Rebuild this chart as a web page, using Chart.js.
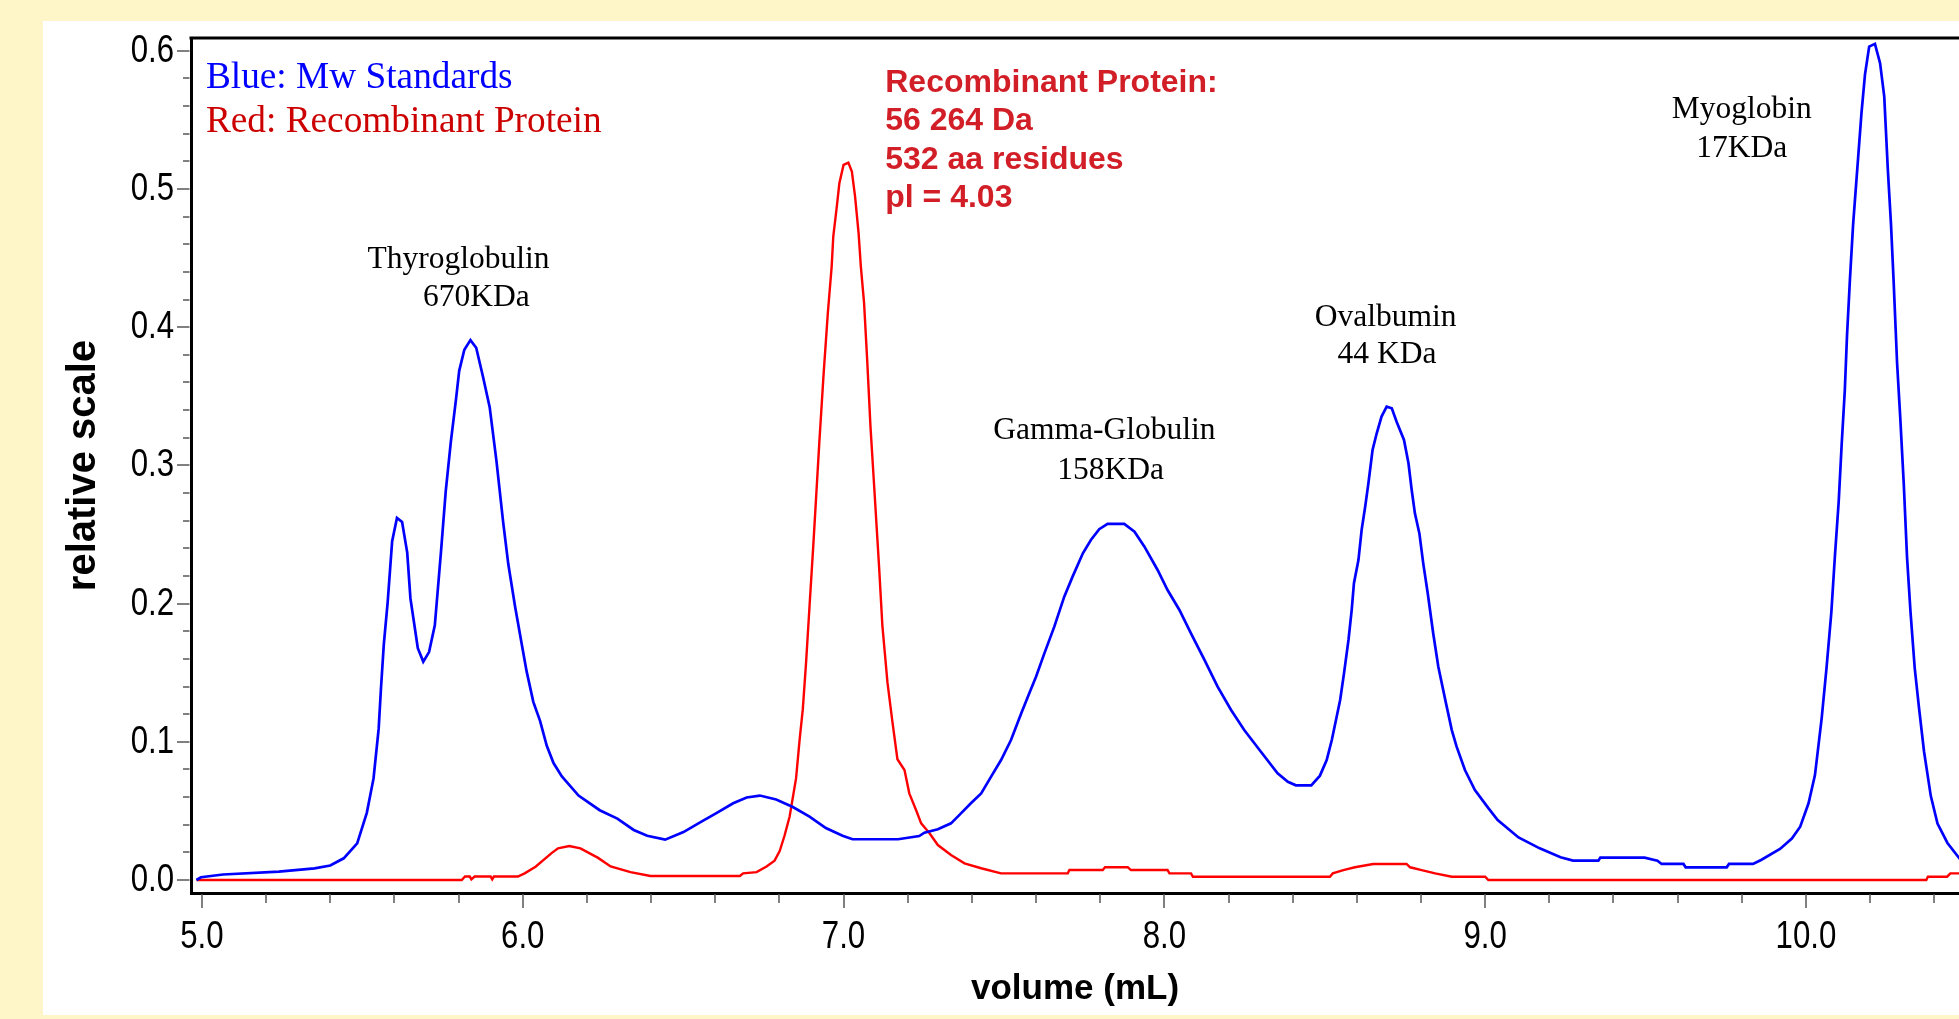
<!DOCTYPE html>
<html>
<head>
<meta charset="utf-8">
<script src="https://cdn.jsdelivr.net/npm/chart.js@4.4.1/dist/chart.umd.min.js"></script>
<style>
  html, body { margin: 0; padding: 0; background: #fef5c8; overflow: hidden; }
  #panel { position: absolute; left: 43px; top: 21px; width: 1916px; height: 994px; background: #ffffff; }
</style>
</head>
<body>
<div id="panel"><canvas id="myChart"></canvas></div>
<script>
// Mw standards trace (blue)
const blueVolume = [4.983, 4.997, 5.066, 5.24, 5.351, 5.40, 5.442, 5.484, 5.514, 5.535, 5.551, 5.558, 5.567, 5.579, 5.593, 5.608, 5.624, 5.640, 5.650, 5.666, 5.673, 5.690, 5.708, 5.726, 5.739, 5.745, 5.760, 5.776, 5.792, 5.802, 5.818, 5.837, 5.855, 5.876, 5.897, 5.918, 5.939, 5.955, 5.976, 5.997, 6.012, 6.033, 6.054, 6.075, 6.096, 6.122, 6.174, 6.240, 6.295, 6.346, 6.388, 6.444, 6.501, 6.553, 6.605, 6.656, 6.698, 6.739, 6.790, 6.842, 6.894, 6.945, 6.997, 7.028, 7.170, 7.236, 7.252, 7.294, 7.335, 7.366, 7.397, 7.429, 7.460, 7.491, 7.522, 7.554, 7.579, 7.600, 7.626, 7.657, 7.688, 7.714, 7.746, 7.771, 7.797, 7.823, 7.875, 7.907, 7.938, 7.979, 8.010, 8.047, 8.083, 8.125, 8.166, 8.208, 8.249, 8.301, 8.353, 8.385, 8.410, 8.458, 8.485, 8.506, 8.522, 8.535, 8.548, 8.560, 8.574, 8.584, 8.591, 8.605, 8.615, 8.626, 8.636, 8.649, 8.662, 8.677, 8.693, 8.709, 8.724, 8.747, 8.761, 8.771, 8.781, 8.795, 8.807, 8.821, 8.838, 8.854, 8.878, 8.896, 8.911, 8.937, 8.968, 9.010, 9.039, 9.104, 9.170, 9.235, 9.274, 9.353, 9.359, 9.497, 9.537, 9.55, 9.618, 9.625, 9.753, 9.76, 9.835, 9.86, 9.919, 9.956, 9.982, 10.008, 10.028, 10.049, 10.064, 10.079, 10.09, 10.102, 10.111, 10.121, 10.128, 10.137, 10.147, 10.160, 10.173, 10.184, 10.197, 10.215, 10.231, 10.244, 10.255, 10.265, 10.273, 10.284, 10.294, 10.305, 10.315, 10.326, 10.339, 10.352, 10.368, 10.389, 10.41, 10.441, 10.481, 10.52];
const blueSignal = [0.000, 0.002, 0.004, 0.006, 0.0084, 0.0105, 0.0157, 0.0265, 0.0486, 0.0735, 0.1095, 0.138, 0.1705, 0.2009, 0.2452, 0.2619, 0.259, 0.2369, 0.2037, 0.1787, 0.1677, 0.158, 0.1649, 0.1843, 0.2203, 0.2369, 0.2812, 0.3172, 0.3477, 0.3684, 0.3837, 0.3906, 0.3851, 0.3643, 0.3421, 0.3034, 0.259, 0.2286, 0.1981, 0.1705, 0.1511, 0.1289, 0.1151, 0.0971, 0.0846, 0.0749, 0.0611, 0.0505, 0.0444, 0.0362, 0.032, 0.0292, 0.0347, 0.0417, 0.0486, 0.0555, 0.0597, 0.0611, 0.0583, 0.0528, 0.0459, 0.0376, 0.032, 0.0295, 0.0295, 0.0318, 0.0342, 0.0367, 0.041, 0.0482, 0.0555, 0.0627, 0.0748, 0.0868, 0.1013, 0.1206, 0.1351, 0.1471, 0.164, 0.1833, 0.205, 0.2195, 0.2364, 0.246, 0.2538, 0.2576, 0.2576, 0.252, 0.2412, 0.2243, 0.2098, 0.1954, 0.1785, 0.1592, 0.1399, 0.123, 0.1085, 0.0928, 0.0772, 0.0711, 0.0685, 0.0685, 0.0755, 0.0868, 0.1013, 0.1158, 0.1302, 0.1495, 0.1737, 0.1954, 0.2147, 0.2315, 0.2533, 0.2701, 0.287, 0.3111, 0.3232, 0.3353, 0.3425, 0.3413, 0.3316, 0.3184, 0.3015, 0.2822, 0.2653, 0.2508, 0.2291, 0.2075, 0.1785, 0.1543, 0.1278, 0.1085, 0.0965, 0.0796, 0.0651, 0.052, 0.0434, 0.0308, 0.0229, 0.0164, 0.014, 0.014, 0.0162, 0.0162, 0.014, 0.0116, 0.0116, 0.0092, 0.0092, 0.0116, 0.0116, 0.0145, 0.0225, 0.030, 0.0386, 0.0555, 0.0759, 0.1171, 0.1533, 0.1934, 0.2336, 0.2737, 0.3139, 0.354, 0.3942, 0.4344, 0.4745, 0.5147, 0.5548, 0.5829, 0.603, 0.605, 0.591, 0.5668, 0.5147, 0.4745, 0.4344, 0.3741, 0.334, 0.2858, 0.2336, 0.1934, 0.1533, 0.1252, 0.093, 0.0609, 0.0408, 0.0268, 0.0148, 0.010];

// recombinant protein trace (red)
const redVolume = [4.983, 5.81, 5.82, 5.835, 5.84, 5.85, 5.90, 5.905, 5.91, 5.985, 6.006, 6.04, 6.089, 6.11, 6.145, 6.18, 6.235, 6.274, 6.336, 6.398, 6.677, 6.687, 6.729, 6.760, 6.785, 6.801, 6.816, 6.832, 6.852, 6.863, 6.873, 6.883, 6.894, 6.906, 6.925, 6.938, 6.951, 6.963, 6.968, 6.979, 6.987, 7.0, 7.015, 7.026, 7.036, 7.047, 7.054, 7.064, 7.074, 7.084, 7.095, 7.111, 7.121, 7.137, 7.152, 7.168, 7.19, 7.205, 7.226, 7.242, 7.268, 7.294, 7.335, 7.377, 7.429, 7.491, 7.699, 7.704, 7.808, 7.815, 7.886, 7.896, 8.010, 8.016, 8.083, 8.089, 8.516, 8.525, 8.558, 8.594, 8.651, 8.755, 8.766, 8.802, 8.844, 8.896, 9.0, 9.01, 10.375, 10.38, 10.44, 10.45, 10.52];
const redSignal = [0.0, 0.0, 0.0025, 0.0025, 0.0005, 0.0025, 0.0025, 0.0005, 0.0025, 0.0025, 0.0048, 0.0096, 0.0193, 0.0229, 0.0246, 0.0229, 0.016, 0.0098, 0.0057, 0.0029, 0.0029, 0.0048, 0.0057, 0.0098, 0.014, 0.0209, 0.032, 0.0459, 0.0735, 0.1012, 0.1234, 0.1566, 0.1981, 0.243, 0.3184, 0.3666, 0.41, 0.4438, 0.4655, 0.4872, 0.5041, 0.5174, 0.519, 0.5125, 0.4944, 0.4679, 0.4438, 0.4175, 0.375, 0.328, 0.2867, 0.2258, 0.1843, 0.1428, 0.1151, 0.0874, 0.0796, 0.0627, 0.0507, 0.041, 0.0338, 0.0253, 0.0181, 0.0121, 0.0085, 0.0048, 0.0048, 0.0072, 0.0072, 0.0092, 0.0092, 0.0072, 0.0072, 0.0048, 0.0048, 0.0024, 0.0024, 0.0048, 0.0072, 0.0092, 0.0116, 0.0116, 0.0092, 0.0072, 0.0048, 0.0024, 0.0024, 0.0, 0.0, 0.0024, 0.0024, 0.0048, 0.0048];

// text on the chart
const legendLines = ['Blue: Mw Standards', 'Red: Recombinant Protein'];
const peakNames = ['Thyroglobulin', 'Gamma-Globulin', 'Ovalbumin', 'Myoglobin'];
const peakMasses = ['670KDa', '158KDa', '44 KDa', '17KDa'];
const proteinInfo = ['Recombinant Protein:', '56 264 Da', '532 aa residues', 'pl = 4.03'];

function toPoints(xs, ys) {
  return xs.map((v, i) => ({ x: v, y: ys[i] }));
}

function nearMultiple(v, step) {
  return Math.abs(v / step - Math.round(v / step)) < 1e-6;
}

// narrow-looking tick labels: regular sans squeezed horizontally
function narrowText(ctx, text, px, py, align) {
  const squeeze = 0.8;
  ctx.save();
  ctx.translate(px, py);
  ctx.scale(squeeze, 1);
  ctx.textAlign = align;
  ctx.fillText(text, 0, 0);
  ctx.restore();
}

// tick marks (long at labelled values), tick labels, top frame line
const axisExtras = {
  id: 'axisExtras',
  afterDraw(chart) {
    const { ctx, chartArea, scales: { x, y } } = chart;
    ctx.save();
    ctx.strokeStyle = '#808080';
    ctx.lineWidth = 2;
    ctx.beginPath();
    x.ticks.forEach(t => {
      const px = Math.round(x.getPixelForValue(t.value));
      const len = nearMultiple(t.value, 1) ? 15 : 10;
      ctx.moveTo(px, chartArea.bottom + 1.5);
      ctx.lineTo(px, chartArea.bottom + len);
    });
    y.ticks.forEach(t => {
      const py = Math.round(y.getPixelForValue(t.value));
      const len = nearMultiple(t.value, 0.1) ? 14 : 8;
      ctx.moveTo(chartArea.left - 1.5, py);
      ctx.lineTo(chartArea.left - len, py);
    });
    ctx.stroke();

    ctx.fillStyle = '#000000';
    ctx.font = '39px "Liberation Sans", Arial, sans-serif';
    ctx.textBaseline = 'alphabetic';
    x.ticks.forEach(t => {
      if (!nearMultiple(t.value, 1)) return;
      narrowText(ctx, t.value.toFixed(1), x.getPixelForValue(t.value), chartArea.bottom + 55, 'center');
    });
    y.ticks.forEach(t => {
      if (!nearMultiple(t.value, 0.1)) return;
      narrowText(ctx, t.value.toFixed(1), chartArea.left - 17, y.getPixelForValue(t.value) + 11, 'right');
    });

    ctx.strokeStyle = '#000000';
    ctx.lineWidth = 3;
    ctx.beginPath();
    ctx.moveTo(chartArea.left - 1.5, chartArea.top);
    ctx.lineTo(chartArea.right, chartArea.top);
    ctx.stroke();
    ctx.restore();
  }
};

// labels, anchored in data units
const chartText = {
  id: 'chartText',
  afterDatasetsDraw(chart) {
    const { ctx, scales: { x, y } } = chart;
    const at = (vx, vy) => [x.getPixelForValue(vx), y.getPixelForValue(vy)];
    ctx.save();
    ctx.textBaseline = 'alphabetic';

    ctx.textAlign = 'left';
    ctx.font = '37.3px "Liberation Serif", "Times New Roman", serif';
    ctx.fillStyle = '#0000ff';
    ctx.fillText(legendLines[0], ...at(5.0125, 0.5731));
    ctx.fillStyle = '#cc0000';
    ctx.fillText(legendLines[1], ...at(5.0125, 0.5412));

    const nameAt = [[5.7996, 0.4428], [7.8133, 0.3191], [8.6895, 0.4009], [9.800, 0.5514]];
    const massAt = [[5.8557, 0.4153], [7.8326, 0.2902], [8.694, 0.3741], [9.800, 0.5234]];
    ctx.textAlign = 'center';
    ctx.font = '31.5px "Liberation Serif", "Times New Roman", serif';
    ctx.fillStyle = '#000000';
    peakNames.forEach((name, i) => {
      ctx.fillText(name, ...at(nameAt[i][0], nameAt[i][1]));
      ctx.fillText(peakMasses[i], ...at(massAt[i][0], massAt[i][1]));
    });

    ctx.textAlign = 'left';
    ctx.font = 'bold 32px "Liberation Sans", Arial, sans-serif';
    ctx.fillStyle = 'rgb(210,30,38)';
    const infoY = [0.5702, 0.5424, 0.5145, 0.4866];
    proteinInfo.forEach((line, i) => {
      ctx.fillText(line, ...at(7.130, infoY[i]));
    });
    ctx.restore();
  }
};

const ctx = document.getElementById('myChart').getContext('2d');
const myChart = new Chart(ctx, {
  type: 'scatter',
  data: {
    datasets: [{
      label: 'Mw Standards',
      data: toPoints(blueVolume, blueSignal),
      showLine: true,
      borderColor: '#0000ff',
      backgroundColor: '#0000ff',
      borderWidth: 2.7,
      pointRadius: 0,
      tension: 0
    }, {
      label: 'Recombinant Protein',
      data: toPoints(redVolume, redSignal),
      showLine: true,
      borderColor: '#ff0000',
      backgroundColor: '#ff0000',
      borderWidth: 2.4,
      pointRadius: 0,
      tension: 0
    }]
  },
  options: {
    responsive: true,
    maintainAspectRatio: false,
    animation: false,
    layout: { padding: { top: 17, left: 0, right: 0, bottom: 0 } },
    plugins: {
      legend: { display: false },
      tooltip: { enabled: false }
    },
    scales: {
      x: {
        type: 'linear',
        position: 'bottom',
        min: 4.966,
        max: 10.477,
        grid: { display: false, drawTicks: false },
        border: { display: true, color: '#000000', width: 3 },
        ticks: {
          display: false,
          stepSize: 0.2,
          includeBounds: false,
          autoSkip: false,
          maxRotation: 0,
          minRotation: 0
        },
        title: {
          display: true,
          text: 'volume (mL)',
          color: '#000000',
          font: { family: '"Liberation Sans", Arial, sans-serif', size: 35, weight: 'bold' },
          padding: { top: 0, bottom: 5 }
        },
        afterFit(scale) {
          scale.height = 122;
          scale.paddingLeft = 0;
          scale.paddingRight = 0;
        }
      },
      y: {
        type: 'linear',
        min: -0.0094,
        max: 0.6092,
        grid: { display: false, drawTicks: false },
        border: { display: true, color: '#000000', width: 3 },
        ticks: {
          display: false,
          stepSize: 0.02,
          includeBounds: false,
          autoSkip: false
        },
        title: {
          display: true,
          text: 'relative scale',
          color: '#000000',
          font: { family: '"Liberation Sans", Arial, sans-serif', size: 40, weight: 'bold' },
          padding: { top: 17, bottom: 0 }
        },
        afterFit(scale) {
          scale.width = 148;
          scale.paddingTop = 0;
          scale.paddingBottom = 0;
        }
      }
    }
  },
  plugins: [axisExtras, chartText]
});
</script>
</body>
</html>
